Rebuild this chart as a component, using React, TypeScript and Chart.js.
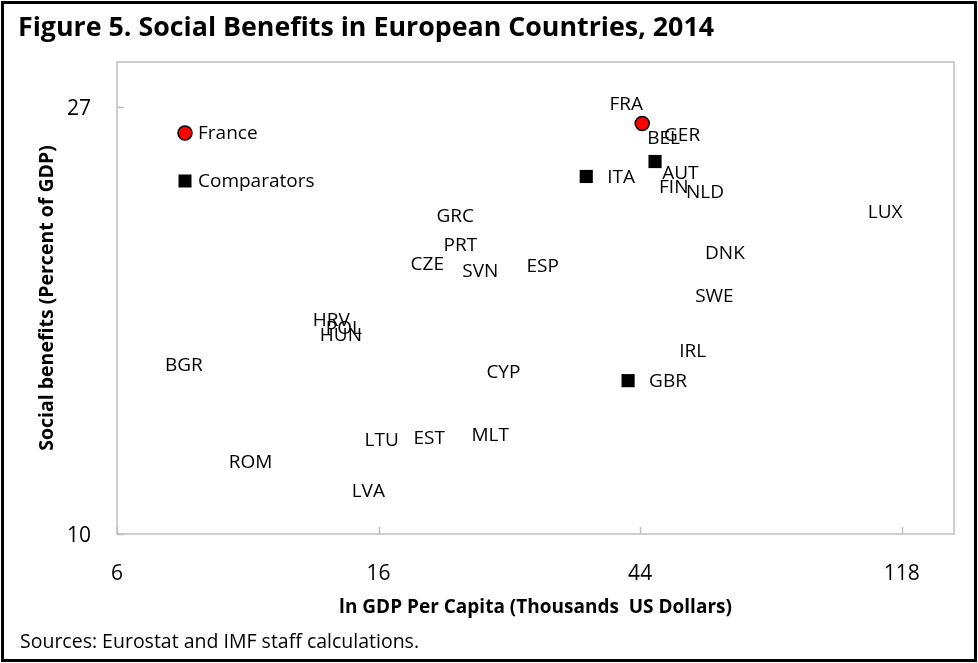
import React, { useEffect, useRef } from "react";
import { Chart, registerables } from "chart.js";

Chart.register(...registerables);

// ---- Data (x = ln GDP per capita, y = ln social benefits % of GDP) ----
const franceLabels = ["FRA"];
const franceX = [3.808];
const franceY = [3.261];

const comparatorLabels = ["GER", "ITA", "GBR"];
const comparatorX = [3.857, 3.594, 3.754];
const comparatorY = [3.172, 3.137, 2.659];

const otherLabels = [
  "BEL", "AUT", "FIN", "NLD", "LUX", "GRC", "PRT", "CZE", "SVN", "ESP",
  "DNK", "SWE", "HRV", "POL", "HUN", "BGR", "IRL", "CYP", "LTU", "EST",
  "MLT", "ROM", "LVA",
];
const otherX = [
  3.747, 3.804, 3.792, 3.895, 4.590, 2.941, 2.968, 2.842, 3.040, 3.285,
  3.968, 3.930, 2.468, 2.518, 2.495, 1.903, 3.869, 3.132, 2.666, 2.853,
  3.075, 2.147, 2.617,
];
const otherY = [
  3.228, 3.146, 3.113, 3.101, 3.055, 3.045, 2.977, 2.933, 2.916, 2.928,
  2.959, 2.858, 2.802, 2.783, 2.766, 2.696, 2.729, 2.680, 2.520, 2.525,
  2.532, 2.469, 2.401,
];

const xTickValues = [1.8, 2.8, 3.8, 4.8];
const xTickLabels = ["6", "16", "44", "118"];
const yTickValues = [2.3, 3.3];
const yTickLabels = ["10", "27"];

const seriesNames = ["France", "Comparators"];

const TITLE = "Figure 5. Social Benefits in European Countries, 2014";
const SOURCE = "Sources: Eurostat and IMF staff calculations.";
const X_TITLE = "ln GDP Per Capita (Thousands  US Dollars)";
const Y_TITLE = "Social benefits (Percent of GDP)";

// label placement (styling): default right of point
const labelOffsets: Record<string, { dx: number; dy: number; align: CanvasTextAlign }> = {
  FRA: { dx: -16, dy: -19, align: "center" },
  GER: { dx: 9, dy: -26, align: "left" },
};

const FONT = "'Open Sans', 'Noto Sans', sans-serif";

const toPoints = (xs: number[], ys: number[]) => xs.map((x, i) => ({ x, y: ys[i] }));

const decorPlugin = {
  id: "decor",
  beforeDraw(chart: any) {
    const { ctx, width, height } = chart;
    ctx.save();
    ctx.fillStyle = "#ffffff";
    ctx.fillRect(0, 0, width, height);
    ctx.restore();
  },
  afterDatasetsDraw(chart: any) {
    const { ctx, chartArea: a } = chart;
    const xs = chart.scales.x;
    const ys = chart.scales.y;
    ctx.save();
    // plot frame
    ctx.strokeStyle = "#bfbfbf";
    ctx.lineWidth = 1.5;
    ctx.strokeRect(a.left, a.top, a.right - a.left, a.bottom - a.top);
    // inward tick marks
    ctx.beginPath();
    xs.ticks.forEach((t: any) => {
      const px = Math.round(xs.getPixelForValue(t.value)) + 0.5;
      ctx.moveTo(px, a.bottom);
      ctx.lineTo(px, a.bottom - 7);
    });
    ys.ticks.forEach((t: any) => {
      const py = Math.round(ys.getPixelForValue(t.value)) + 0.5;
      ctx.moveTo(a.left, py);
      ctx.lineTo(a.left + 7, py);
    });
    ctx.stroke();

    // point labels
    ctx.fillStyle = "#000";
    ctx.font = `19px ${FONT}`;
    ctx.textBaseline = "middle";
    chart.data.datasets.forEach((ds: any, di: number) => {
      const meta = chart.getDatasetMeta(di);
      meta.data.forEach((el: any, i: number) => {
        const name = ds.pointNames[i];
        const off = labelOffsets[name] || { dx: 21, dy: 1, align: "left" };
        ctx.textAlign = off.align;
        ctx.fillText(name, el.x + off.dx, el.y + off.dy);
      });
    });

    // legend inside plot area
    const lx = a.left + 68;
    const ly1 = a.top + 71;
    const ly2 = a.top + 119;
    ctx.beginPath();
    ctx.arc(lx, ly1, 7, 0, Math.PI * 2);
    ctx.fillStyle = "#ff0000";
    ctx.fill();
    ctx.lineWidth = 1.5;
    ctx.strokeStyle = "#000";
    ctx.stroke();
    ctx.fillStyle = "#000";
    ctx.fillRect(lx - 6.5, ly2 - 6.5, 13, 13);
    ctx.textAlign = "left";
    ctx.font = `19px ${FONT}`;
    ctx.fillText(seriesNames[0], lx + 13, ly1 + 1);
    ctx.fillText(seriesNames[1], lx + 13, ly2 + 1);
    ctx.restore();
  },
  afterDraw(chart: any) {
    const { ctx, width, height } = chart;
    ctx.save();
    ctx.fillStyle = "#000";
    ctx.textAlign = "left";
    ctx.textBaseline = "alphabetic";
    ctx.font = `bold 27px ${FONT}`;
    ctx.fillText(TITLE, 18, 36, 696);
    ctx.font = `19.5px ${FONT}`;
    ctx.fillText(SOURCE, 20, 648, 412);
    // outer frame
    ctx.strokeStyle = "#000";
    ctx.lineWidth = 3;
    ctx.strokeRect(2.5, 2.5, width - 5, height - 5);
    ctx.restore();
  },
};

export default function App() {
  const canvasRef = useRef<HTMLCanvasElement | null>(null);

  useEffect(() => {
    if (!canvasRef.current) return;
    const chart = new Chart(canvasRef.current, {
      type: "scatter",
      data: {
        datasets: [
          {
            label: seriesNames[0],
            data: toPoints(franceX, franceY),
            pointNames: franceLabels,
            pointStyle: "circle",
            pointRadius: 7,
            pointHoverRadius: 7,
            backgroundColor: "#ff0000",
            borderColor: "#000000",
            borderWidth: 1.5,
          } as any,
          {
            label: seriesNames[1],
            data: toPoints(comparatorX, comparatorY),
            pointNames: comparatorLabels,
            pointStyle: "rect",
            pointRadius: 9.3,
            pointHoverRadius: 9.3,
            backgroundColor: "#000000",
            borderColor: "#000000",
            borderWidth: 0,
          } as any,
          {
            label: "Others",
            data: toPoints(otherX, otherY),
            pointNames: otherLabels,
            pointRadius: 0,
            pointHoverRadius: 0,
            backgroundColor: "rgba(0,0,0,0)",
            borderColor: "rgba(0,0,0,0)",
          } as any,
        ],
      },
      options: {
        responsive: false,
        animation: false,
        devicePixelRatio: 1,
        layout: { padding: { top: 62, right: 24, left: 0, bottom: 0 } },
        plugins: {
          legend: { display: false },
          tooltip: { enabled: false },
          title: { display: false },
        },
        scales: {
          x: {
            type: "linear",
            min: 1.8,
            max: 5.0,
            afterFit: (s: any) => {
              s.height = 129;
            },
            afterBuildTicks: (s: any) => {
              s.ticks = xTickValues.map((v) => ({ value: v }));
            },
            ticks: {
              autoSkip: false,
              maxRotation: 0,
              padding: 27,
              color: "#000",
              font: { family: FONT, size: 21 },
              callback: (_v: any, i: number) => xTickLabels[i],
            },
            grid: { display: false, drawTicks: false },
            border: { display: false },
            title: {
              display: true,
              text: X_TITLE,
              color: "#000",
              font: { family: FONT, size: 19, weight: "bold" },
              padding: { top: 0, bottom: 44 },
            },
          },
          y: {
            type: "linear",
            min: 2.3,
            max: 3.405,
            afterFit: (s: any) => {
              s.width = 117;
            },
            afterBuildTicks: (s: any) => {
              s.ticks = yTickValues.map((v) => ({ value: v }));
            },
            ticks: {
              autoSkip: false,
              padding: 26,
              labelOffset: 2,
              color: "#000",
              font: { family: FONT, size: 21 },
              callback: (_v: any, i: number) => yTickLabels[i],
            },
            grid: { display: false, drawTicks: false },
            border: { display: false },
            title: {
              display: true,
              text: Y_TITLE,
              color: "#000",
              font: { family: FONT, size: 19.5, weight: "bold" },
              padding: { top: 36, bottom: 0 },
            },
          },
        },
      },
      plugins: [decorPlugin],
    });
    return () => chart.destroy();
  }, []);

  return (
    <div style={{ position: "fixed", left: 0, top: 0, width: 978, height: 663, background: "#fff" }}>
      <canvas ref={canvasRef} width={978} height={663} style={{ width: 978, height: 663, display: "block" }} />
    </div>
  );
}
